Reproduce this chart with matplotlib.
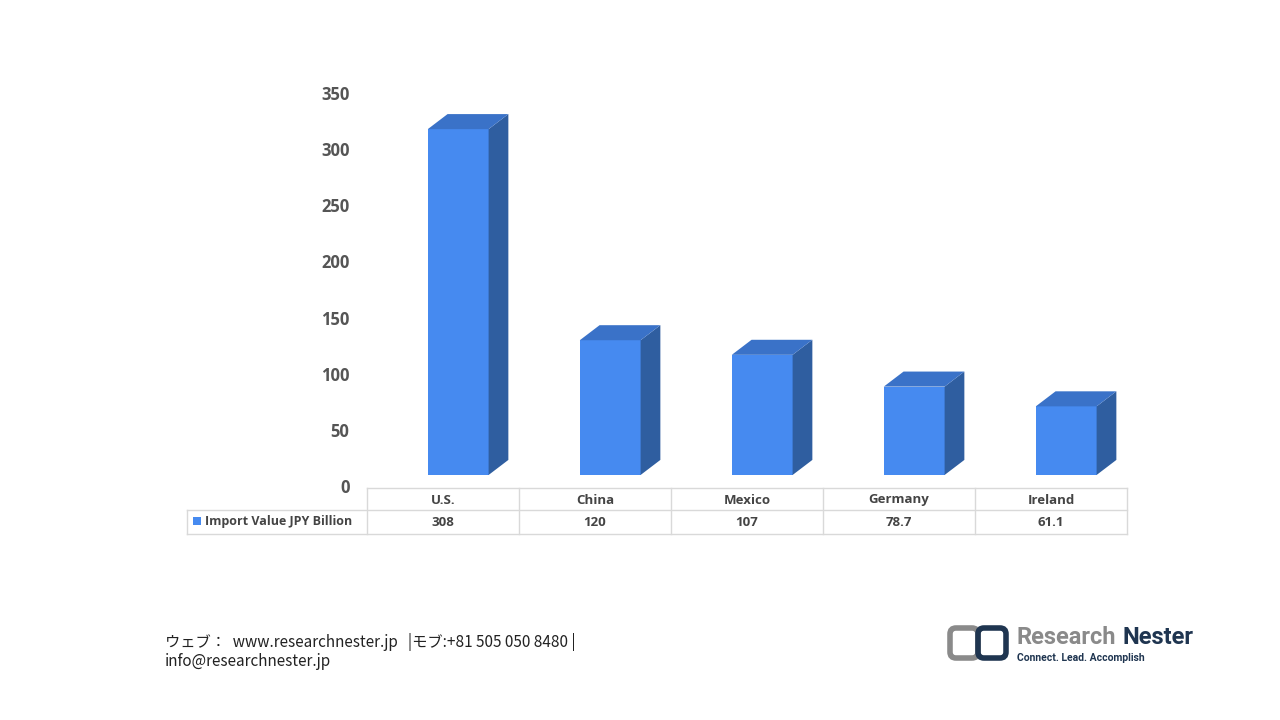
import matplotlib
matplotlib.use("Agg")
import matplotlib.pyplot as plt
from matplotlib.patches import Polygon, Rectangle, FancyBboxPatch

categories = ["U.S.", "China", "Mexico", "Germany", "Ireland"]
values = [308, 120, 107, 78.7, 61.1]
labels = ["308", "120", "107", "78.7", "61.1"]
series_name = "Import Value JPY Billion"
yticks = [0, 50, 100, 150, 200, 250, 300, 350]

W, H = 1280, 720
fig = plt.figure(figsize=(W/100, H/100), dpi=100)
fig.patch.set_facecolor("white")
plt.rcParams['font.family'] = ['Open Sans', 'DejaVu Sans']

def fx(px): return px / W
def fy(py): return 1 - py / H

ax = fig.add_axes([fx(367), fy(488), fx(1127) - fx(367), fy(95) - fy(488)])
ax.set_xlim(0, 5)
ax.set_ylim(0, 350)
ax.axis("off")
front = "#468af0"
side = "#2f5ea0"
topc = "#3a72c8"
base = 11.6
w = 0.4
dx, dy = 0.13, 13.4
for i, v in enumerate(values):
    x0 = i + 0.5 - w/2 + 0.1
    x1 = x0 + w
    y0, y1 = base, base + v
    ax.add_patch(Polygon([(x0, y0), (x1, y0), (x1, y1), (x0, y1)], closed=True, fc=front, ec="none", clip_on=False))
    ax.add_patch(Polygon([(x1, y0), (x1+dx, y0+dy), (x1+dx, y1+dy), (x1, y1)], closed=True, fc=side, ec="none", clip_on=False))
    ax.add_patch(Polygon([(x0, y1), (x1, y1), (x1+dx, y1+dy), (x0+dx, y1+dy)], closed=True, fc=topc, ec="none", clip_on=False))
for t in yticks:
    ax.text(-0.023, t, str(t), ha="right", va="center", fontsize=12, color="#555555", fontweight="bold", transform=ax.get_yaxis_transform(), clip_on=False)

tax = fig.add_axes([0, 0, 1, 1])
tax.set_xlim(0, W); tax.set_ylim(H, 0); tax.axis("off")
lc = "#d9d9d9"
colx = [187, 367, 519, 671, 823, 975, 1127]
tax.plot([367, 1127], [488, 488], color=lc, lw=1)
tax.plot([187, 1127], [510, 510], color=lc, lw=1)
tax.plot([187, 1127], [534, 534], color=lc, lw=1)
for i, x in enumerate(colx):
    tax.plot([x, x], [510 if i == 0 else 488, 534], color=lc, lw=1)
for i, c in enumerate(categories):
    cx = (colx[i+1] + colx[i+2]) / 2
    tax.text(cx, 500, c, ha="center", va="center", fontsize=9.5, fontweight="bold", color="#444444")
    tax.text(cx, 522, labels[i], ha="center", va="center", fontsize=9.5, fontweight="bold", color="#444444")
tax.add_patch(Rectangle((193, 517), 8, 8, fc=front, ec="none"))
tax.text(205, 522, series_name, ha="left", va="center", fontsize=9, fontweight="bold", color="#444444")

fig.text(fx(165), fy(642), "ウェブ：  www.researchnester.jp   |モブ:+81 505 050 8480 |", fontsize=11,
         family=['Noto Sans CJK JP', 'DejaVu Sans'], va="center", color="#222222")
fig.text(fx(165), fy(662), "info@researchnester.jp", fontsize=11,
         family=['Noto Sans CJK JP', 'DejaVu Sans'], va="center", color="#222222")

tax.add_patch(FancyBboxPatch((950, 628), 28, 30, boxstyle="round,pad=0,rounding_size=6", fc="none", ec="#8a8a8a", lw=4))
tax.add_patch(FancyBboxPatch((978, 628), 28, 30, boxstyle="round,pad=0,rounding_size=6", fc="none", ec="#1f3550", lw=4))
fig.text(fx(1016), fy(638), "Research", fontsize=17, color="#8a8a8a", fontweight="bold", va="center", ha="left", family="Roboto")
fig.text(fx(1193), fy(638), "Nester", fontsize=17, color="#1f3550", fontweight="bold", va="center", ha="right", family="Roboto")
fig.text(fx(1017), fy(658), "Connect. Lead. Accomplish", fontsize=7.5, color="#1f3550", fontweight="bold", va="center", ha="left", family="Roboto")

fig.savefig("out.png", dpi=100)
